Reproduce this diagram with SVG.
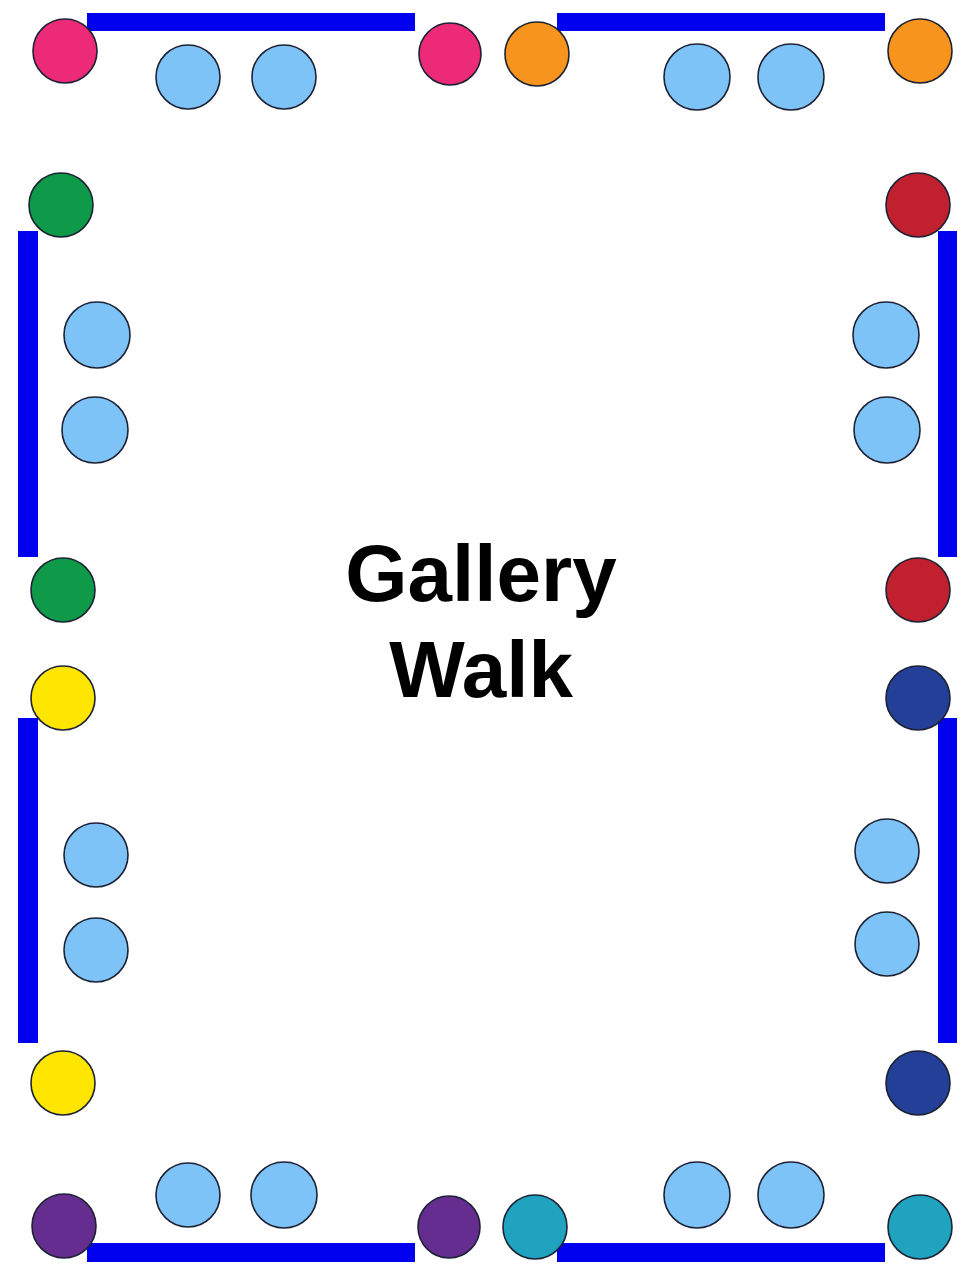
<svg xmlns="http://www.w3.org/2000/svg" width="963" height="1267" viewBox="0 0 963 1267">
  <style>
    .wall { fill: #0000EE; }
    circle { stroke: #1c2233; stroke-width: 1.6; }
    .seat { fill: #7DC3F8; }
    .pink { fill: #EC2A78; }
    .orange { fill: #F7941D; }
    .green { fill: #0E9A48; }
    .red { fill: #C1202F; }
    .yellow { fill: #FFE600; }
    .navy { fill: #233F98; }
    .purple { fill: #662D91; }
    .teal { fill: #1FA3BF; }
    .title { font-family: "Liberation Sans", Arial, sans-serif; font-weight: bold; font-size: 80px; fill: #000; text-anchor: middle; }
  </style>
  <rect width="963" height="1267" fill="#fff"/>
  <g id="walls">
    <rect class="wall" x="87" y="13" width="328" height="18"/>
    <rect class="wall" x="557" y="13" width="328" height="18"/>
    <rect class="wall" x="18" y="231" width="20" height="326"/>
    <rect class="wall" x="938" y="231" width="19" height="326"/>
    <rect class="wall" x="18" y="718" width="20" height="325"/>
    <rect class="wall" x="938" y="718" width="19" height="325"/>
    <rect class="wall" x="87" y="1243" width="328" height="19"/>
    <rect class="wall" x="557" y="1243" width="328" height="19"/>
  </g>
  <g id="station-top-left">
    <circle class="pink" cx="65" cy="51" r="32"/>
    <circle class="seat" cx="188" cy="77" r="32"/>
    <circle class="seat" cx="284" cy="77" r="32"/>
    <circle class="pink" cx="450" cy="54" r="31"/>
  </g>
  <g id="station-top-right">
    <circle class="orange" cx="537" cy="54" r="32"/>
    <circle class="seat" cx="697" cy="77" r="33"/>
    <circle class="seat" cx="791" cy="77" r="33"/>
    <circle class="orange" cx="920" cy="51" r="32"/>
  </g>
  <g id="station-left-upper">
    <circle class="green" cx="61" cy="205" r="32"/>
    <circle class="seat" cx="97" cy="335" r="33"/>
    <circle class="seat" cx="95" cy="430" r="33"/>
    <circle class="green" cx="63" cy="590" r="32"/>
  </g>
  <g id="station-right-upper">
    <circle class="red" cx="918" cy="205" r="32"/>
    <circle class="seat" cx="886" cy="335" r="33"/>
    <circle class="seat" cx="887" cy="430" r="33"/>
    <circle class="red" cx="918" cy="590" r="32"/>
  </g>
  <g id="station-left-lower">
    <circle class="yellow" cx="63" cy="698" r="32"/>
    <circle class="seat" cx="96" cy="855" r="32"/>
    <circle class="seat" cx="96" cy="950" r="32"/>
    <circle class="yellow" cx="63" cy="1083" r="32"/>
  </g>
  <g id="station-right-lower">
    <circle class="navy" cx="918" cy="698" r="32"/>
    <circle class="seat" cx="887" cy="851" r="32"/>
    <circle class="seat" cx="887" cy="944" r="32"/>
    <circle class="navy" cx="918" cy="1083" r="32"/>
  </g>
  <g id="station-bottom-left">
    <circle class="purple" cx="64" cy="1226" r="32"/>
    <circle class="seat" cx="188" cy="1195" r="32"/>
    <circle class="seat" cx="284" cy="1195" r="33"/>
    <circle class="purple" cx="449" cy="1227" r="31"/>
  </g>
  <g id="station-bottom-right">
    <circle class="teal" cx="535" cy="1227" r="32"/>
    <circle class="seat" cx="697" cy="1195" r="33"/>
    <circle class="seat" cx="791" cy="1195" r="33"/>
    <circle class="teal" cx="920" cy="1227" r="32"/>
  </g>
  <g id="title">
    <text class="title" x="481" y="601">Gallery</text>
    <text class="title" x="481" y="697">Walk</text>
  </g>
</svg>
